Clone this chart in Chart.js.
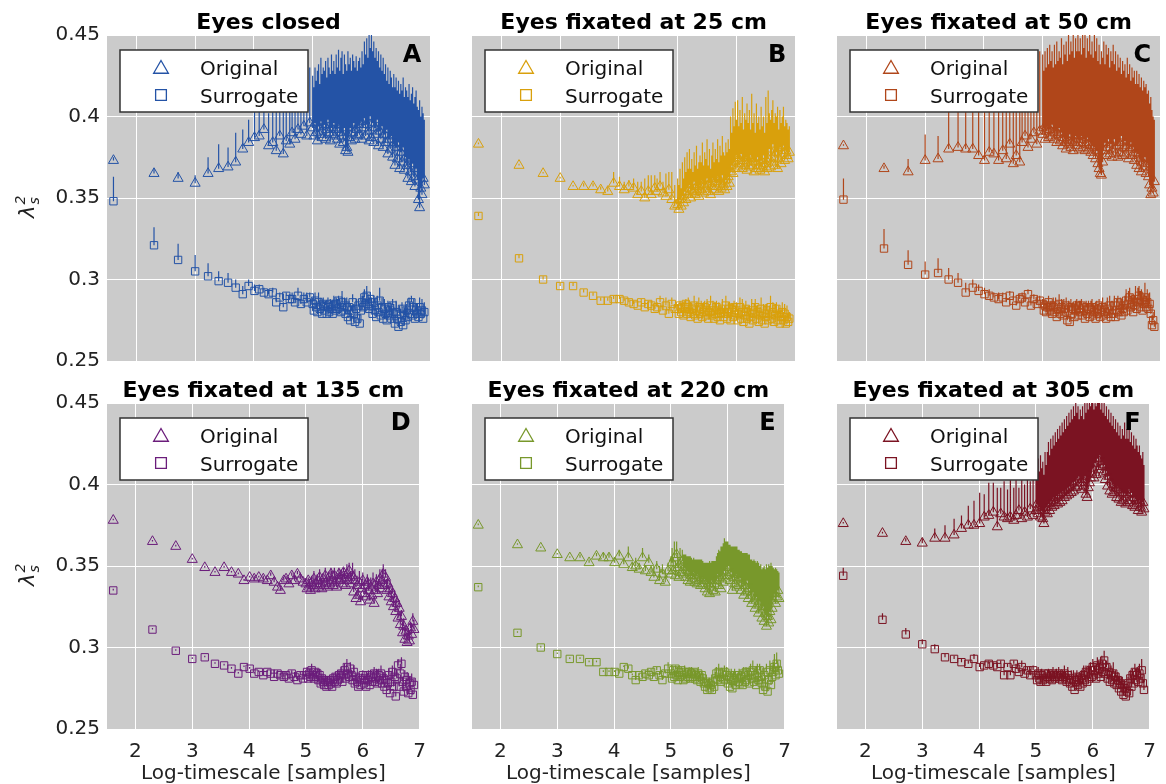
<!DOCTYPE html>
<html><head><meta charset="utf-8">
<script src="https://cdn.jsdelivr.net/npm/chart.js@4/dist/chart.umd.min.js"></script>
<style>
html,body{margin:0;padding:0;background:#fff;overflow:hidden;}
#wrap{position:relative;width:1166px;height:784px;overflow:hidden;}
canvas{position:absolute;}
</style></head>
<body><div id="wrap"></div>
<script>
// ---- categories / tick labels ----
const logTimescale = [
 1.61,2.30,2.71,3.00,3.22,3.40,3.56,3.69,3.81,3.91,
 4.01,4.09,4.17,4.25,4.32,4.38,4.44,4.50,4.55,4.61,
 4.65,4.70,4.75,4.80,4.85,4.90,4.95,
 5.00,5.02,5.04,5.06,5.08,5.10,5.12,5.14,5.16,5.18,
 5.20,5.22,5.24,5.26,5.28,5.30,5.32,5.34,5.36,5.38,
 5.40,5.42,5.44,5.46,5.48,5.50,5.52,5.54,5.56,5.58,
 5.60,5.62,5.64,5.66,5.68,5.70,5.72,5.74,5.76,5.78,
 5.80,5.82,5.84,5.86,5.88,5.90,5.92,5.94,5.96,5.98,
 6.00,6.02,6.04,6.06,6.08,6.10,6.12,6.14,6.16,6.18,
 6.20,6.22,6.24,6.26,6.28,6.30,6.32,6.34,6.36,6.38,
 6.40,6.42,6.44,6.46,6.48,6.50,6.52,6.54,6.56,6.58,
 6.60,6.62,6.64,6.66,6.68,6.70,6.72,6.74,6.76,6.78,
 6.80,6.82,6.84,6.86,6.88,6.90];
const xTicks = [2,3,4,5,6,7];
const yTicks = [0.25,0.3,0.35,0.4,0.45];
const titles = ['Eyes closed','Eyes fixated at 25 cm','Eyes fixated at 50 cm','Eyes fixated at 135 cm','Eyes fixated at 220 cm','Eyes fixated at 305 cm'];
const letters = ['A','B','C','D','E','F'];
const seriesNames = ['Original','Surrogate'];

// ---- A: eyes closed ----
const aOrig = [
 .373,.365,.362,.359,.365,.368,.369,.372,.380,.384,
 .387,.388,.392,.382,.384,.379,.388,.377,.385,.383,
 .390,.386,.392,.389,.394,.388,.396,
 .393,.388,.396,.390,.385,.394,.389,.397,.391,.387,
 .395,.386,.392,.398,.390,.385,.393,.389,.396,.388,
 .392,.386,.395,.383,.390,.388,.384,.393,.379,.381,
 .378,.387,.393,.385,.390,.396,.386,.392,.388,.395,
 .389,.397,.386,.393,.399,.388,.395,.391,.385,.400,
 .387,.396,.384,.393,.389,.398,.382,.391,.386,.394,
 .381,.389,.384,.392,.377,.386,.380,.388,.375,.383,
 .370,.381,.374,.384,.368,.378,.372,.381,.367,.375,
 .370,.362,.374,.366,.360,.371,.363,.357,.368,.361,
 .349,.344,.356,.352,.362,.358];
const aOrigErr = [
 .002,.003,.004,.005,.010,.015,.012,.018,.012,.014,
 .022,.016,.026,.020,.030,.024,.027,.030,.025,.032,
 .028,.024,.033,.023,.034,.026,.034,
 .032,.030,.034,.032,.043,.038,.031,.039,.035,.043,
 .033,.048,.032,.038,.040,.041,.045,.039,.038,.038,
 .046,.044,.046,.045,.046,.052,.042,.045,.053,.047,
 .062,.045,.043,.043,.048,.038,.044,.045,.040,.039,
 .047,.033,.054,.039,.047,.050,.053,.045,.065,.042,
 .063,.044,.062,.043,.053,.036,.058,.039,.052,.034,
 .055,.037,.048,.030,.053,.034,.048,.036,.043,.043,
 .048,.043,.042,.038,.046,.042,.044,.043,.045,.043,
 .046,.050,.046,.044,.054,.047,.045,.055,.048,.045,
 .055,.066,.044,.054,.040,.040];
const aSurr = [
 .348,.321,.312,.305,.302,.299,.298,.295,.291,.296,
 .293,.294,.292,.291,.292,.286,.289,.283,.290,.288,
 .288,.286,.290,.285,.288,.286,.289,
 .285,.281,.287,.283,.280,.286,.282,.284,.279,.285,
 .281,.284,.279,.283,.280,.285,.282,.279,.284,.281,
 .285,.282,.287,.283,.280,.286,.281,.284,.279,.283,
 .277,.283,.275,.281,.286,.279,.274,.282,.276,.284,
 .273,.281,.286,.283,.289,.284,.290,.285,.282,.288,
 .284,.279,.286,.281,.277,.284,.280,.287,.278,.283,
 .276,.282,.279,.275,.283,.278,.281,.276,.284,.279,
 .273,.280,.276,.271,.279,.274,.282,.272,.278,.275,
 .281,.277,.284,.279,.286,.278,.283,.276,.281,.279,
 .277,.283,.279,.281,.276,.280];
const aSurrErr = [
 .015,.011,.010,.010,.008,.006,.006,.005,.005,.004,
 .004,.003,.003,.003,.003,.003,.003,.003,.002,.003,
 .004,.003,.005,.003,.004,.006,.003,
 .004,.003,.005,.004,.003,.006,.004,.005,.003,.004,
 .005,.003,.004,.006,.004,.003,.005,.004,.006,.003,
 .004,.006,.003,.005,.004,.007,.003,.005,.004,.006,
 .005,.004,.007,.003,.005,.006,.004,.006,.005,.004,
 .006,.005,.004,.007,.005,.004,.006,.005,.007,.004,
 .005,.006,.004,.007,.005,.006,.004,.008,.005,.006,
 .004,.006,.005,.007,.004,.006,.005,.007,.004,.006,
 .005,.007,.004,.006,.005,.008,.004,.006,.005,.007,
 .004,.006,.005,.007,.004,.006,.005,.007,.004,.006,
 .005,.006,.004,.007,.005,.006];

// ---- B: 25 cm ----
const bOrig = [
 .383,.370,.365,.362,.357,.357,.357,.355,.354,.359,
 .357,.355,.357,.356,.352,.354,.350,.354,.352,.356,
 .354,.357,.353,.351,.355,.349,.345,
 .346,.343,.349,.345,.351,.347,.354,.349,.356,.352,
 .358,.350,.355,.353,.360,.352,.357,.354,.351,.358,
 .355,.361,.353,.358,.356,.362,.354,.359,.352,.357,
 .362,.355,.360,.357,.363,.354,.359,.356,.364,.358,
 .355,.361,.357,.363,.359,.366,.370,.365,.372,.368,
 .376,.369,.374,.371,.377,.368,.373,.370,.375,.367,
 .372,.369,.376,.370,.374,.366,.372,.368,.375,.370,
 .367,.373,.369,.376,.366,.371,.368,.374,.380,.369,
 .372,.383,.375,.370,.378,.368,.374,.381,.371,.377,
 .382,.373,.379,.376,.374,.378];
const bOrigErr = [
 .001,.001,.001,.001,.001,.002,.002,.002,.003,.007,
 .006,.005,.004,.006,.008,.006,.012,.010,.012,.008,
 .008,.009,.007,.014,.011,.017,.013,
 .016,.015,.019,.011,.021,.015,.021,.017,.022,.016,
 .022,.018,.019,.013,.018,.018,.025,.014,.021,.018,
 .017,.023,.017,.020,.018,.024,.016,.021,.016,.019,
 .022,.017,.020,.017,.023,.018,.023,.020,.024,.020,
 .021,.023,.021,.023,.021,.034,.020,.040,.022,.041,
 .022,.041,.020,.033,.019,.044,.019,.032,.023,.041,
 .024,.035,.016,.044,.022,.036,.018,.040,.021,.030,
 .025,.033,.025,.024,.024,.041,.028,.042,.022,.029,
 .032,.027,.021,.032,.022,.038,.018,.023,.025,.023,
 .024,.021,.019,.020,.018,.016];
const bSurr = [
 .339,.313,.300,.296,.296,.292,.290,.287,.287,.288,
 .288,.287,.286,.285,.284,.286,.283,.285,.284,.282,
 .283,.286,.281,.284,.279,.285,.282,
 .282,.279,.284,.280,.283,.278,.282,.285,.279,.283,
 .280,.277,.282,.279,.284,.278,.281,.276,.283,.279,
 .282,.277,.280,.283,.278,.281,.276,.280,.284,.278,
 .281,.276,.279,.283,.277,.281,.275,.279,.282,.277,
 .280,.284,.276,.279,.282,.275,.280,.277,.283,.278,
 .281,.275,.279,.283,.276,.280,.274,.278,.282,.276,
 .280,.273,.277,.281,.275,.279,.283,.276,.280,.274,
 .278,.282,.275,.279,.273,.277,.281,.275,.279,.283,
 .276,.280,.274,.278,.282,.275,.279,.273,.277,.280,
 .275,.279,.273,.277,.274,.276];
const bSurrErr = [
 .002,.002,.002,.002,.002,.002,.002,.002,.002,.002,
 .002,.002,.002,.002,.003,.002,.003,.002,.003,.002,
 .003,.004,.003,.005,.003,.004,.003,
 .003,.004,.003,.005,.003,.004,.005,.003,.004,.006,
 .003,.005,.004,.003,.006,.004,.005,.003,.006,.004,
 .005,.003,.006,.004,.005,.007,.004,.005,.006,.004,
 .006,.005,.007,.004,.006,.005,.008,.004,.006,.005,
 .004,.006,.005,.007,.004,.006,.005,.008,.004,.006,
 .005,.007,.004,.006,.005,.008,.004,.006,.005,.007,
 .004,.006,.005,.007,.004,.006,.005,.008,.004,.006,
 .005,.007,.004,.006,.005,.008,.004,.006,.005,.007,
 .004,.006,.005,.007,.004,.006,.005,.008,.004,.006,
 .005,.006,.004,.007,.005,.004];

// ---- C: 50 cm ----
const cOrig = [
 .382,.368,.366,.373,.374,.380,.381,.380,.380,.376,
 .373,.378,.377,.373,.379,.374,.383,.371,.376,.372,
 .384,.388,.381,.386,.390,.383,.391,
 .389,.393,.386,.391,.394,.387,.392,.388,.395,.390,
 .386,.391,.384,.389,.393,.385,.390,.382,.387,.384,
 .380,.386,.383,.389,.381,.385,.379,.384,.388,.382,
 .386,.380,.384,.388,.381,.386,.379,.383,.387,.380,
 .384,.378,.382,.376,.381,.374,.379,.371,.368,.365,
 .364,.372,.379,.384,.376,.381,.386,.377,.383,.375,
 .380,.386,.377,.382,.375,.384,.378,.388,.376,.381,
 .385,.377,.382,.374,.380,.384,.376,.381,.373,.378,
 .370,.377,.368,.374,.366,.372,.369,.375,.365,.371,
 .363,.358,.352,.356,.353,.360];
const cOrigErr = [
 .001,.002,.008,.016,.014,.030,.028,.032,.026,.034,
 .036,.030,.034,.036,.032,.038,.030,.040,.036,.042,
 .040,.030,.047,.034,.042,.039,.049,
 .049,.035,.054,.039,.048,.045,.052,.046,.045,.040,
 .058,.041,.062,.045,.047,.051,.058,.050,.057,.054,
 .066,.048,.067,.049,.065,.055,.073,.052,.060,.058,
 .066,.060,.064,.050,.073,.056,.071,.053,.061,.060,
 .066,.060,.064,.060,.071,.066,.069,.063,.076,.067,
 .076,.064,.067,.048,.068,.057,.056,.053,.057,.059,
 .064,.046,.063,.046,.063,.046,.058,.038,.058,.047,
 .047,.047,.054,.052,.052,.038,.054,.043,.055,.042,
 .058,.043,.058,.044,.058,.044,.053,.043,.055,.043,
 .053,.050,.060,.048,.047,.038];
const cSurr = [
 .349,.319,.309,.303,.304,.300,.298,.292,.295,.293,
 .291,.290,.289,.288,.289,.286,.290,.287,.284,.288,
 .289,.286,.291,.284,.288,.285,.287,
 .285,.281,.284,.280,.283,.286,.281,.284,.279,.283,
 .280,.284,.277,.282,.285,.279,.283,.278,.282,.280,
 .284,.275,.281,.274,.283,.279,.282,.277,.281,.284,
 .278,.282,.280,.284,.278,.281,.276,.283,.279,.282,
 .277,.281,.283,.278,.280,.276,.282,.279,.284,.277,
 .281,.283,.278,.280,.276,.282,.279,.284,.277,.281,
 .279,.284,.277,.281,.286,.280,.284,.278,.282,.280,
 .284,.287,.281,.285,.289,.283,.286,.280,.284,.288,
 .282,.286,.290,.283,.287,.281,.285,.289,.283,.286,
 .282,.285,.279,.272,.275,.271];
const cSurrErr = [
 .013,.012,.009,.008,.009,.007,.006,.006,.005,.004,
 .004,.004,.003,.004,.003,.003,.003,.003,.003,.003,
 .003,.004,.003,.005,.003,.004,.003,
 .003,.004,.003,.005,.003,.004,.005,.003,.004,.006,
 .003,.005,.004,.003,.006,.004,.005,.003,.006,.004,
 .005,.003,.006,.004,.005,.006,.004,.005,.006,.004,
 .006,.005,.007,.004,.006,.005,.006,.004,.006,.005,
 .004,.006,.005,.007,.004,.006,.005,.006,.004,.006,
 .005,.006,.004,.006,.005,.007,.004,.006,.005,.006,
 .004,.006,.005,.007,.004,.006,.005,.007,.006,.005,
 .006,.007,.005,.008,.006,.007,.005,.009,.006,.008,
 .007,.009,.006,.010,.007,.008,.006,.009,.007,.008,
 .006,.007,.005,.006,.005,.004];

// ---- D: 135 cm ----
const dOrig = [
 .378,.365,.362,.354,.349,.346,.349,.346,.345,.341,
 .343,.342,.343,.342,.341,.344,.340,.337,.335,.341,
 .342,.339,.344,.341,.345,.342,.340,
 .339,.336,.341,.337,.335,.340,.338,.342,.336,.339,
 .341,.337,.343,.339,.336,.342,.338,.344,.340,.337,
 .343,.339,.345,.341,.338,.344,.340,.337,.342,.345,
 .341,.344,.339,.346,.342,.338,.345,.341,.347,.343,
 .339,.344,.334,.341,.330,.338,.332,.340,.328,.336,
 .341,.333,.338,.331,.340,.335,.329,.337,.332,.339,
 .327,.335,.340,.333,.338,.342,.336,.341,.345,.338,
 .343,.335,.339,.331,.336,.328,.333,.325,.330,.322,
 .327,.318,.324,.314,.319,.309,.313,.305,.310,.303,
 .307,.304,.312,.308,.316,.311];
const dOrigErr = [
 .001,.001,.001,.001,.001,.001,.001,.001,.001,.001,
 .001,.002,.001,.002,.001,.002,.002,.001,.002,.002,
 .002,.003,.002,.003,.002,.004,.002,
 .003,.004,.002,.005,.003,.004,.002,.005,.003,.004,
 .004,.003,.005,.004,.006,.003,.004,.005,.003,.006,
 .003,.005,.004,.006,.003,.005,.004,.006,.003,.004,
 .005,.004,.006,.003,.005,.004,.006,.005,.005,.004,
 .006,.008,.005,.007,.004,.006,.005,.007,.004,.006,
 .005,.007,.004,.006,.005,.007,.004,.006,.005,.007,
 .004,.006,.005,.007,.004,.006,.005,.007,.006,.005,
 .005,.007,.004,.006,.005,.007,.004,.006,.005,.007,
 .004,.006,.005,.007,.004,.006,.005,.007,.004,.006,
 .005,.006,.004,.007,.005,.006];
const dSurr = [
 .335,.311,.298,.293,.294,.290,.289,.287,.284,.288,
 .287,.284,.285,.283,.285,.284,.282,.284,.283,.282,
 .283,.281,.284,.282,.280,.283,.281,
 .283,.285,.281,.284,.282,.286,.283,.281,.285,.282,
 .284,.280,.283,.278,.281,.279,.277,.280,.276,.279,
 .277,.280,.278,.276,.281,.279,.282,.278,.280,.283,
 .281,.284,.279,.283,.286,.281,.288,.284,.282,.287,
 .283,.280,.285,.278,.282,.279,.276,.281,.277,.280,
 .283,.278,.281,.276,.280,.283,.277,.282,.279,.281,
 .284,.279,.282,.278,.283,.280,.284,.278,.281,.276,
 .280,.274,.278,.283,.272,.279,.285,.276,.282,.270,
 .281,.289,.276,.284,.290,.279,.273,.282,.276,.280,
 .272,.278,.274,.279,.271,.277];
const dSurrErr = [
 .001,.001,.001,.001,.001,.001,.001,.001,.001,.001,
 .001,.001,.001,.002,.001,.002,.001,.002,.001,.002,
 .002,.001,.002,.003,.002,.002,.003,
 .002,.003,.002,.003,.002,.004,.002,.003,.002,.003,
 .003,.002,.004,.002,.003,.002,.004,.003,.002,.003,
 .002,.003,.002,.004,.003,.002,.003,.002,.004,.003,
 .003,.004,.002,.003,.004,.003,.005,.003,.002,.004,
 .003,.002,.004,.003,.002,.004,.003,.002,.003,.004,
 .003,.004,.002,.003,.004,.003,.002,.004,.003,.005,
 .004,.003,.005,.002,.004,.003,.005,.003,.004,.002,
 .004,.003,.005,.004,.003,.006,.004,.003,.005,.003,
 .005,.004,.003,.006,.004,.003,.005,.004,.003,.005,
 .003,.004,.003,.005,.003,.004];

// ---- E: 220 cm ----
const eOrig = [
 .375,.363,.361,.357,.355,.355,.352,.356,.355,.355,
 .352,.356,.351,.355,.349,.350,.348,.355,.347,.352,
 .346,.343,.348,.341,.345,.340,.347,
 .345,.352,.347,.355,.344,.357,.349,.343,.351,.346,
 .353,.345,.349,.343,.347,.341,.346,.340,.344,.342,
 .346,.340,.344,.339,.345,.341,.338,.343,.339,.342,
 .336,.341,.334,.339,.333,.337,.341,.335,.339,.334,
 .341,.345,.338,.343,.336,.344,.340,.347,.342,.349,
 .344,.350,.341,.346,.335,.343,.339,.345,.337,.342,
 .338,.343,.335,.340,.332,.338,.334,.341,.330,.336,
 .332,.327,.334,.329,.324,.331,.326,.321,.328,.323,
 .318,.325,.316,.321,.313,.319,.315,.322,.317,.324,
 .329,.333,.327,.331,.335,.330];
const eOrigErr = [
 .001,.001,.001,.001,.001,.002,.002,.002,.003,.003,
 .002,.004,.003,.007,.003,.005,.004,.006,.003,.005,
 .004,.007,.005,.009,.006,.008,.005,
 .011,.009,.008,.010,.009,.008,.009,.008,.010,.007,
 .007,.012,.008,.014,.009,.015,.010,.016,.011,.012,
 .009,.014,.010,.015,.009,.013,.016,.011,.014,.010,
 .016,.011,.018,.013,.020,.015,.012,.018,.014,.019,
 .015,.013,.022,.016,.026,.018,.024,.020,.023,.016,
 .021,.013,.022,.016,.027,.019,.023,.017,.025,.018,
 .022,.016,.024,.018,.026,.020,.024,.017,.027,.021,
 .022,.027,.019,.025,.029,.021,.027,.031,.022,.028,
 .030,.024,.034,.027,.038,.030,.036,.028,.035,.026,
 .020,.015,.022,.017,.012,.016];
const eSurr = [
 .337,.309,.300,.296,.293,.293,.291,.291,.285,.285,
 .285,.284,.288,.287,.283,.280,.283,.282,.284,.283,
 .285,.282,.286,.283,.280,.284,.287,
 .284,.281,.286,.282,.287,.283,.280,.285,.282,.286,
 .283,.280,.285,.281,.284,.282,.285,.281,.284,.282,
 .285,.281,.283,.280,.284,.282,.279,.283,.281,.278,
 .276,.279,.274,.278,.275,.277,.274,.279,.276,.281,
 .284,.280,.285,.282,.279,.284,.281,.285,.280,.283,
 .278,.282,.276,.281,.275,.280,.283,.277,.281,.279,
 .283,.278,.282,.277,.284,.279,.285,.280,.283,.278,
 .285,.281,.286,.279,.283,.277,.284,.280,.286,.282,
 .278,.274,.283,.276,.285,.273,.280,.286,.277,.282,
 .285,.288,.283,.290,.286,.284];
const eSurrErr = [
 .001,.001,.001,.001,.001,.001,.001,.001,.001,.001,
 .001,.002,.001,.002,.001,.002,.001,.002,.002,.001,
 .002,.003,.002,.002,.003,.002,.004,
 .002,.003,.002,.004,.002,.003,.002,.004,.003,.002,
 .003,.002,.004,.003,.002,.004,.003,.002,.004,.003,
 .002,.004,.003,.002,.004,.003,.005,.002,.003,.004,
 .003,.002,.004,.003,.005,.002,.004,.003,.002,.004,
 .004,.003,.005,.002,.004,.003,.005,.004,.003,.005,
 .003,.005,.004,.006,.003,.005,.004,.006,.003,.005,
 .004,.006,.003,.005,.004,.006,.003,.005,.004,.006,
 .005,.004,.006,.003,.005,.004,.006,.005,.004,.006,
 .005,.007,.004,.006,.005,.007,.004,.006,.005,.007,
 .006,.008,.005,.007,.006,.005];

// ---- F: 305 cm ----
const fOrig = [
 .376,.370,.365,.364,.367,.367,.369,.373,.375,.375,
 .376,.380,.381,.383,.374,.382,.380,.379,.380,.378,
 .381,.384,.379,.383,.380,.385,.381,
 .384,.388,.382,.386,.380,.384,.379,.376,.383,.386,
 .382,.388,.384,.390,.386,.392,.387,.389,.393,.388,
 .394,.389,.395,.390,.396,.392,.397,.393,.398,.394,
 .399,.395,.401,.396,.402,.398,.404,.399,.405,.401,
 .397,.403,.399,.405,.394,.392,.398,.401,.404,.407,
 .410,.404,.413,.406,.416,.409,.418,.411,.414,.407,
 .412,.403,.408,.399,.405,.396,.402,.394,.400,.395,
 .398,.392,.399,.391,.397,.389,.395,.390,.396,.388,
 .394,.389,.397,.390,.395,.387,.392,.386,.391,.388,
 .384,.390,.386,.383,.389,.385];
const fOrigErr = [
 .001,.001,.002,.003,.006,.008,.010,.008,.012,.015,
 .019,.014,.020,.018,.024,.016,.022,.018,.025,.020,
 .023,.014,.027,.017,.028,.017,.029,
 .028,.018,.034,.022,.038,.026,.035,.030,.037,.026,
 .038,.038,.034,.038,.036,.038,.037,.043,.033,.046,
 .034,.047,.035,.048,.036,.048,.037,.049,.038,.050,
 .039,.051,.039,.052,.040,.052,.040,.049,.035,.045,
 .045,.045,.041,.047,.050,.058,.048,.053,.044,.045,
 .044,.042,.039,.042,.040,.041,.036,.035,.038,.037,
 .038,.039,.040,.041,.041,.042,.042,.042,.042,.039,
 .042,.040,.039,.039,.039,.039,.039,.040,.042,.040,
 .040,.039,.039,.036,.037,.037,.038,.036,.037,.036,
 .036,.034,.032,.033,.031,.027];
const fSurr = [
 .344,.317,.308,.302,.299,.294,.293,.291,.290,.293,
 .288,.289,.290,.289,.288,.290,.283,.288,.283,.290,
 .287,.285,.288,.284,.286,.283,.286,
 .283,.280,.284,.281,.279,.283,.280,.284,.281,.279,
 .282,.284,.281,.283,.280,.284,.282,.281,.283,.282,
 .284,.281,.283,.280,.282,.284,.281,.279,.283,.280,
 .278,.281,.276,.280,.274,.279,.282,.277,.280,.276,
 .281,.278,.283,.280,.285,.279,.284,.281,.286,.282,
 .288,.283,.286,.281,.289,.284,.287,.282,.290,.285,
 .292,.284,.288,.281,.285,.279,.283,.280,.284,.278,
 .282,.277,.280,.275,.278,.273,.277,.271,.275,.270,
 .273,.278,.272,.281,.276,.283,.278,.285,.280,.283,
 .279,.284,.281,.286,.278,.274];
const fSurrErr = [
 .005,.004,.004,.003,.003,.002,.002,.002,.002,.003,
 .002,.002,.002,.002,.002,.002,.002,.002,.002,.002,
 .003,.002,.004,.003,.002,.004,.003,
 .003,.002,.004,.003,.002,.004,.003,.002,.003,.004,
 .002,.003,.004,.002,.003,.004,.003,.002,.004,.003,
 .004,.003,.002,.004,.003,.005,.004,.003,.005,.004,
 .003,.005,.004,.006,.004,.005,.004,.006,.005,.004,
 .005,.004,.006,.005,.004,.006,.005,.007,.005,.004,
 .005,.006,.004,.006,.005,.007,.004,.006,.005,.007,
 .006,.005,.004,.006,.005,.004,.006,.005,.007,.005,
 .004,.006,.005,.007,.004,.006,.005,.007,.004,.006,
 .005,.004,.006,.005,.007,.004,.006,.005,.007,.005,
 .004,.006,.005,.007,.004,.006];

const panelColors = ['#2453a6','#d9a00c','#b0461a','#6b1d7b','#78982b','#7b1322'];
const origSets = [aOrig,bOrig,cOrig,dOrig,eOrig,fOrig];
const origErrSets = [aOrigErr,bOrigErr,cOrigErr,dOrigErr,eOrigErr,fOrigErr];
const surrSets = [aSurr,bSurr,cSurr,dSurr,eSurr,fSurr];
const surrErrSets = [aSurrErr,bSurrErr,cSurrErr,dSurrErr,eSurrErr,fSurrErr];

// ---- layout ----
const FONT = "'DejaVu Sans', sans-serif";
const plotLefts = [107, 472, 837];
const plotTops = [35, 403];
const PW = 326, PH = 326, PADL = 100, PADT = 35, PADR = 4, PADB = 60;

Chart.defaults.font.family = FONT;

const panelPlugin = {
  id: 'panelDeco',
  beforeDraw(chart) {
    const a = chart.chartArea, ctx = chart.ctx;
    ctx.save();
    ctx.fillStyle = '#cbcbcb';
    ctx.fillRect(a.left, a.top, a.right - a.left, a.bottom - a.top);
    ctx.restore();
  },
  beforeDatasetsDraw(chart) {
    const {ctx, chartArea: a, scales: {x, y}} = chart;
    ctx.save();
    ctx.beginPath(); ctx.rect(a.left, a.top, a.right - a.left, a.bottom - a.top); ctx.clip();
    chart.data.datasets.forEach(ds => {
      ctx.strokeStyle = ds.borderColor; ctx.lineWidth = 1.2;
      ctx.beginPath();
      ds.data.forEach((pt, i) => {
        const e = ds.errors[i];
        if (e === undefined || pt.y === undefined) return;
        const px = x.getPixelForValue(pt.x);
        ctx.moveTo(px, y.getPixelForValue(pt.y));
        ctx.lineTo(px, y.getPixelForValue(pt.y + e));
      });
      ctx.stroke();
    });
    ctx.restore();
  },
  afterDatasetsDraw(chart) {
    const {ctx, chartArea: a} = chart;
    const o = chart.options.plugins.panelDeco;
    ctx.save();
    // title
    ctx.fillStyle = '#000';
    ctx.font = "bold 22px " + FONT;
    ctx.textAlign = 'center'; ctx.textBaseline = 'alphabetic';
    ctx.fillText(o.title, (a.left + a.right) / 2, a.top - 6);
    // letter
    ctx.font = "bold 24px " + FONT;
    ctx.textAlign = 'right';
    ctx.fillText(o.letter, a.right - 9, a.top + 27);
    // legend
    const L = a.left + 13, T = a.top + 15, W = 188, H = 62;
    ctx.fillStyle = '#fff'; ctx.fillRect(L, T, W, H);
    ctx.strokeStyle = '#333'; ctx.lineWidth = 1.5; ctx.strokeRect(L, T, W, H);
    ctx.fillStyle = 'rgba(0,0,0,0)';
    ctx.strokeStyle = o.color; ctx.lineWidth = 1.3;
    Chart.helpers.drawPoint(ctx, {pointStyle: 'triangle', radius: 8.5, rotation: 0, borderWidth: 1.3}, L + 41, T + 19);
    Chart.helpers.drawPoint(ctx, {pointStyle: 'rect', radius: 7.6, rotation: 0, borderWidth: 1.3}, L + 41, T + 45);
    ctx.fillStyle = '#111'; ctx.font = "20px " + FONT; ctx.textAlign = 'left';
    ctx.fillText(seriesNames[0], L + 80, T + 25);
    ctx.fillText(seriesNames[1], L + 80, T + 53);
    // y label
    if (o.col === 0) {
      ctx.save();
      ctx.translate(a.left - 73, a.top + 183);
      ctx.rotate(-Math.PI / 2);
      ctx.fillStyle = '#222';
      ctx.font = "italic 21px " + FONT;
      ctx.fillText('λ', 0, 0);
      const w = ctx.measureText('λ').width;
      ctx.font = "italic 14px " + FONT;
      ctx.fillText('2', w + 1, -9);
      ctx.fillText('s', w + 1, 5);
      ctx.restore();
    }
    // x label
    if (o.row === 1) {
      ctx.fillStyle = '#222'; ctx.font = "20px " + FONT; ctx.textAlign = 'center';
      ctx.fillText('Log-timescale [samples]', (a.left + a.right) / 2, a.bottom + 50);
    }
    ctx.restore();
  }
};

const wrap = document.getElementById('wrap');
for (let p = 0; p < 6; p++) {
  const row = Math.floor(p / 3), col = p % 3;
  const cv = document.createElement('canvas');
  const cw = PADL + PW + PADR, ch = PADT + PH + PADB;
  cv.width = cw; cv.height = ch;
  cv.style.width = cw + 'px'; cv.style.height = ch + 'px';
  cv.style.left = (plotLefts[col] - PADL) + 'px';
  cv.style.top = (plotTops[row] - PADT) + 'px';
  wrap.appendChild(cv);
  const color = panelColors[p];
  const mk = (vals) => logTimescale.map((x, i) => ({x: x, y: vals[i]})).filter(d => d.y !== undefined);
  new Chart(cv, {
    type: 'scatter',
    data: {
      datasets: [
        {label: seriesNames[0], data: mk(origSets[p]), errors: origErrSets[p],
         pointStyle: 'triangle', pointRadius: 5.8, pointHoverRadius: 5.8, borderColor: color,
         backgroundColor: 'rgba(0,0,0,0)', borderWidth: 1, pointBorderWidth: 1},
        {label: seriesNames[1], data: mk(surrSets[p]), errors: surrErrSets[p],
         pointStyle: 'rect', pointRadius: 5.2, pointHoverRadius: 5.2, borderColor: color,
         backgroundColor: 'rgba(0,0,0,0)', borderWidth: 1, pointBorderWidth: 1}
      ]
    },
    options: {
      responsive: false, animation: false, devicePixelRatio: 1,
      events: [],
      layout: {padding: {top: PADT, right: PADR, left: 0, bottom: 0}},
      plugins: {
        legend: {display: false}, tooltip: {enabled: false}, title: {display: false},
        panelDeco: {title: titles[p], letter: letters[p], color: color, row: row, col: col}
      },
      scales: {
        x: {
          type: 'linear', min: 1.5, max: 7,
          afterBuildTicks: ax => { ax.ticks = xTicks.map(v => ({value: v})); },
          afterFit: s => { s.height = PADB; },
          grid: {color: '#ffffff', lineWidth: 1, drawTicks: false},
          border: {display: false},
          ticks: {display: row === 1, font: {size: 20, family: FONT}, color: '#222', padding: 11,
                  maxRotation: 0, autoSkip: false}
        },
        y: {
          type: 'linear', min: 0.25, max: 0.45,
          afterBuildTicks: ax => { ax.ticks = yTicks.map(v => ({value: v})); },
          afterFit: s => { s.width = PADL; },
          grid: {color: '#ffffff', lineWidth: 1, drawTicks: false},
          border: {display: false},
          ticks: {display: col === 0, font: {size: 20, family: FONT}, color: '#222', padding: 7,
                  callback: v => String(+(+v).toFixed(2))}
        }
      }
    },
    plugins: [panelPlugin]
  });
}
</script>
</body></html>
